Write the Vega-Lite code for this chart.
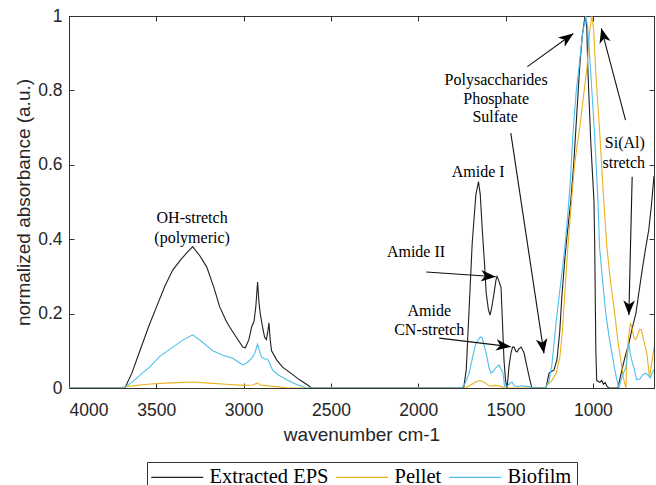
{
  "$schema": "https://vega.github.io/schema/vega-lite/v6.json",
  "width": 585,
  "height": 372,
  "autosize": "none",
  "padding": {"left": 69, "top": 16, "right": 2, "bottom": 97},
  "background": "white",
  "config": {
    "view": {"stroke": "#333333", "strokeWidth": 1},
    "axis": {
      "grid": false,
      "domainColor": "#333333",
      "tickColor": "#333333",
      "tickSize": -5,
      "labelColor": "#262626",
      "titleColor": "#262626",
      "labelFont": "Liberation Sans",
      "titleFont": "Liberation Sans",
      "labelFontSize": 17.5,
      "titleFontSize": 19,
      "titleFontWeight": "normal"
    }
  },
  "datasets": {
    "spectra": [
      {"s": "Extracted EPS", "x": 4000, "y": 0},
      {"s": "Extracted EPS", "x": 3680, "y": 0},
      {"s": "Extracted EPS", "x": 3640, "y": 0.04},
      {"s": "Extracted EPS", "x": 3594, "y": 0.10},
      {"s": "Extracted EPS", "x": 3540, "y": 0.17},
      {"s": "Extracted EPS", "x": 3497, "y": 0.22},
      {"s": "Extracted EPS", "x": 3450, "y": 0.275},
      {"s": "Extracted EPS", "x": 3406, "y": 0.317},
      {"s": "Extracted EPS", "x": 3360, "y": 0.345},
      {"s": "Extracted EPS", "x": 3326, "y": 0.363},
      {"s": "Extracted EPS", "x": 3292, "y": 0.38},
      {"s": "Extracted EPS", "x": 3250, "y": 0.355},
      {"s": "Extracted EPS", "x": 3211, "y": 0.325},
      {"s": "Extracted EPS", "x": 3170, "y": 0.27},
      {"s": "Extracted EPS", "x": 3137, "y": 0.218},
      {"s": "Extracted EPS", "x": 3100, "y": 0.18},
      {"s": "Extracted EPS", "x": 3080, "y": 0.164},
      {"s": "Extracted EPS", "x": 3040, "y": 0.135},
      {"s": "Extracted EPS", "x": 3005, "y": 0.11},
      {"s": "Extracted EPS", "x": 2990, "y": 0.108},
      {"s": "Extracted EPS", "x": 2970, "y": 0.13},
      {"s": "Extracted EPS", "x": 2954, "y": 0.164},
      {"s": "Extracted EPS", "x": 2940, "y": 0.18},
      {"s": "Extracted EPS", "x": 2930, "y": 0.22},
      {"s": "Extracted EPS", "x": 2920, "y": 0.285},
      {"s": "Extracted EPS", "x": 2912, "y": 0.23},
      {"s": "Extracted EPS", "x": 2905, "y": 0.2},
      {"s": "Extracted EPS", "x": 2890, "y": 0.16},
      {"s": "Extracted EPS", "x": 2880, "y": 0.137},
      {"s": "Extracted EPS", "x": 2870, "y": 0.13},
      {"s": "Extracted EPS", "x": 2862, "y": 0.15},
      {"s": "Extracted EPS", "x": 2855, "y": 0.175},
      {"s": "Extracted EPS", "x": 2848, "y": 0.13},
      {"s": "Extracted EPS", "x": 2840, "y": 0.10},
      {"s": "Extracted EPS", "x": 2810, "y": 0.075},
      {"s": "Extracted EPS", "x": 2777, "y": 0.056},
      {"s": "Extracted EPS", "x": 2730, "y": 0.04},
      {"s": "Extracted EPS", "x": 2680, "y": 0.022},
      {"s": "Extracted EPS", "x": 2640, "y": 0.01},
      {"s": "Extracted EPS", "x": 2611, "y": 0},
      {"s": "Extracted EPS", "x": 1740, "y": 0},
      {"s": "Extracted EPS", "x": 1725, "y": 0.05},
      {"s": "Extracted EPS", "x": 1709, "y": 0.21},
      {"s": "Extracted EPS", "x": 1691, "y": 0.39},
      {"s": "Extracted EPS", "x": 1670, "y": 0.52},
      {"s": "Extracted EPS", "x": 1655, "y": 0.555},
      {"s": "Extracted EPS", "x": 1645, "y": 0.52},
      {"s": "Extracted EPS", "x": 1634, "y": 0.43},
      {"s": "Extracted EPS", "x": 1620, "y": 0.33},
      {"s": "Extracted EPS", "x": 1611, "y": 0.255},
      {"s": "Extracted EPS", "x": 1598, "y": 0.21},
      {"s": "Extracted EPS", "x": 1589, "y": 0.196},
      {"s": "Extracted EPS", "x": 1578, "y": 0.22},
      {"s": "Extracted EPS", "x": 1566, "y": 0.255},
      {"s": "Extracted EPS", "x": 1555, "y": 0.29},
      {"s": "Extracted EPS", "x": 1549, "y": 0.30},
      {"s": "Extracted EPS", "x": 1540, "y": 0.29},
      {"s": "Extracted EPS", "x": 1526, "y": 0.27},
      {"s": "Extracted EPS", "x": 1518, "y": 0.18},
      {"s": "Extracted EPS", "x": 1509, "y": 0.075},
      {"s": "Extracted EPS", "x": 1500, "y": 0.02},
      {"s": "Extracted EPS", "x": 1491, "y": 0},
      {"s": "Extracted EPS", "x": 1480, "y": 0.06},
      {"s": "Extracted EPS", "x": 1469, "y": 0.094},
      {"s": "Extracted EPS", "x": 1460, "y": 0.11},
      {"s": "Extracted EPS", "x": 1451, "y": 0.11},
      {"s": "Extracted EPS", "x": 1443, "y": 0.1},
      {"s": "Extracted EPS", "x": 1434, "y": 0.097},
      {"s": "Extracted EPS", "x": 1424, "y": 0.105},
      {"s": "Extracted EPS", "x": 1411, "y": 0.11},
      {"s": "Extracted EPS", "x": 1400, "y": 0.1},
      {"s": "Extracted EPS", "x": 1394, "y": 0.094},
      {"s": "Extracted EPS", "x": 1377, "y": 0.056},
      {"s": "Extracted EPS", "x": 1360, "y": 0.02},
      {"s": "Extracted EPS", "x": 1349, "y": 0},
      {"s": "Extracted EPS", "x": 1269, "y": 0},
      {"s": "Extracted EPS", "x": 1260, "y": 0.02},
      {"s": "Extracted EPS", "x": 1251, "y": 0.04},
      {"s": "Extracted EPS", "x": 1235, "y": 0.045},
      {"s": "Extracted EPS", "x": 1223, "y": 0.048},
      {"s": "Extracted EPS", "x": 1206, "y": 0.075},
      {"s": "Extracted EPS", "x": 1190, "y": 0.15},
      {"s": "Extracted EPS", "x": 1177, "y": 0.25},
      {"s": "Extracted EPS", "x": 1160, "y": 0.35},
      {"s": "Extracted EPS", "x": 1150, "y": 0.40},
      {"s": "Extracted EPS", "x": 1126, "y": 0.505},
      {"s": "Extracted EPS", "x": 1110, "y": 0.6},
      {"s": "Extracted EPS", "x": 1099, "y": 0.685},
      {"s": "Extracted EPS", "x": 1076, "y": 0.86},
      {"s": "Extracted EPS", "x": 1060, "y": 0.95},
      {"s": "Extracted EPS", "x": 1045, "y": 1.0},
      {"s": "Extracted EPS", "x": 1035, "y": 0.97},
      {"s": "Extracted EPS", "x": 1029, "y": 0.86},
      {"s": "Extracted EPS", "x": 1012, "y": 0.66},
      {"s": "Extracted EPS", "x": 994, "y": 0.505},
      {"s": "Extracted EPS", "x": 990, "y": 0.40},
      {"s": "Extracted EPS", "x": 983, "y": 0.10},
      {"s": "Extracted EPS", "x": 978, "y": 0.02},
      {"s": "Extracted EPS", "x": 960, "y": 0.015},
      {"s": "Extracted EPS", "x": 949, "y": 0.02},
      {"s": "Extracted EPS", "x": 940, "y": 0.01},
      {"s": "Extracted EPS", "x": 930, "y": 0.015},
      {"s": "Extracted EPS", "x": 920, "y": 0.005},
      {"s": "Extracted EPS", "x": 909, "y": 0},
      {"s": "Extracted EPS", "x": 857, "y": 0},
      {"s": "Extracted EPS", "x": 845, "y": 0.025},
      {"s": "Extracted EPS", "x": 834, "y": 0.048},
      {"s": "Extracted EPS", "x": 815, "y": 0.085},
      {"s": "Extracted EPS", "x": 794, "y": 0.12},
      {"s": "Extracted EPS", "x": 775, "y": 0.16},
      {"s": "Extracted EPS", "x": 754, "y": 0.2},
      {"s": "Extracted EPS", "x": 737, "y": 0.255},
      {"s": "Extracted EPS", "x": 720, "y": 0.31},
      {"s": "Extracted EPS", "x": 700, "y": 0.37},
      {"s": "Extracted EPS", "x": 680, "y": 0.425},
      {"s": "Extracted EPS", "x": 665, "y": 0.49},
      {"s": "Extracted EPS", "x": 650, "y": 0.57},

      {"s": "Pellet", "x": 4000, "y": 0},
      {"s": "Pellet", "x": 3720, "y": 0},
      {"s": "Pellet", "x": 3650, "y": 0.005},
      {"s": "Pellet", "x": 3550, "y": 0.01},
      {"s": "Pellet", "x": 3450, "y": 0.013},
      {"s": "Pellet", "x": 3350, "y": 0.015},
      {"s": "Pellet", "x": 3290, "y": 0.016},
      {"s": "Pellet", "x": 3200, "y": 0.013},
      {"s": "Pellet", "x": 3100, "y": 0.01},
      {"s": "Pellet", "x": 3000, "y": 0.007},
      {"s": "Pellet", "x": 2950, "y": 0.008},
      {"s": "Pellet", "x": 2920, "y": 0.013},
      {"s": "Pellet", "x": 2905, "y": 0.008},
      {"s": "Pellet", "x": 2880, "y": 0.007},
      {"s": "Pellet", "x": 2850, "y": 0.005},
      {"s": "Pellet", "x": 2800, "y": 0.003},
      {"s": "Pellet", "x": 2750, "y": 0},
      {"s": "Pellet", "x": 1730, "y": 0},
      {"s": "Pellet", "x": 1700, "y": 0.008},
      {"s": "Pellet", "x": 1670, "y": 0.017},
      {"s": "Pellet", "x": 1645, "y": 0.02},
      {"s": "Pellet", "x": 1620, "y": 0.015},
      {"s": "Pellet", "x": 1595, "y": 0.006},
      {"s": "Pellet", "x": 1580, "y": 0.005},
      {"s": "Pellet", "x": 1560, "y": 0.007},
      {"s": "Pellet", "x": 1540, "y": 0.006},
      {"s": "Pellet", "x": 1520, "y": 0.003},
      {"s": "Pellet", "x": 1505, "y": 0},
      {"s": "Pellet", "x": 1275, "y": 0},
      {"s": "Pellet", "x": 1260, "y": 0.01},
      {"s": "Pellet", "x": 1234, "y": 0.02},
      {"s": "Pellet", "x": 1210, "y": 0.04},
      {"s": "Pellet", "x": 1190, "y": 0.08},
      {"s": "Pellet", "x": 1175, "y": 0.15},
      {"s": "Pellet", "x": 1160, "y": 0.26},
      {"s": "Pellet", "x": 1143, "y": 0.38},
      {"s": "Pellet", "x": 1122, "y": 0.505},
      {"s": "Pellet", "x": 1105, "y": 0.6},
      {"s": "Pellet", "x": 1091, "y": 0.65},
      {"s": "Pellet", "x": 1075, "y": 0.7},
      {"s": "Pellet", "x": 1055, "y": 0.78},
      {"s": "Pellet", "x": 1034, "y": 0.86},
      {"s": "Pellet", "x": 1018, "y": 0.96},
      {"s": "Pellet", "x": 1006, "y": 1.0},
      {"s": "Pellet", "x": 995, "y": 0.96},
      {"s": "Pellet", "x": 985, "y": 0.86},
      {"s": "Pellet", "x": 960, "y": 0.68},
      {"s": "Pellet", "x": 945, "y": 0.56},
      {"s": "Pellet", "x": 938, "y": 0.505},
      {"s": "Pellet", "x": 920, "y": 0.38},
      {"s": "Pellet", "x": 900, "y": 0.29},
      {"s": "Pellet", "x": 875, "y": 0.2},
      {"s": "Pellet", "x": 855, "y": 0.12},
      {"s": "Pellet", "x": 840, "y": 0.075},
      {"s": "Pellet", "x": 825, "y": 0.025},
      {"s": "Pellet", "x": 811, "y": 0},
      {"s": "Pellet", "x": 805, "y": 0.09},
      {"s": "Pellet", "x": 795, "y": 0.14},
      {"s": "Pellet", "x": 785, "y": 0.175},
      {"s": "Pellet", "x": 775, "y": 0.16},
      {"s": "Pellet", "x": 765, "y": 0.135},
      {"s": "Pellet", "x": 756, "y": 0.13},
      {"s": "Pellet", "x": 745, "y": 0.14},
      {"s": "Pellet", "x": 732, "y": 0.158},
      {"s": "Pellet", "x": 722, "y": 0.156},
      {"s": "Pellet", "x": 710, "y": 0.13},
      {"s": "Pellet", "x": 691, "y": 0.094},
      {"s": "Pellet", "x": 676, "y": 0.03},
      {"s": "Pellet", "x": 665, "y": 0.06},
      {"s": "Pellet", "x": 650, "y": 0.11},

      {"s": "Biofilm", "x": 4000, "y": 0},
      {"s": "Biofilm", "x": 3690, "y": 0},
      {"s": "Biofilm", "x": 3640, "y": 0.015},
      {"s": "Biofilm", "x": 3580, "y": 0.04},
      {"s": "Biofilm", "x": 3537, "y": 0.057},
      {"s": "Biofilm", "x": 3480, "y": 0.085},
      {"s": "Biofilm", "x": 3406, "y": 0.11},
      {"s": "Biofilm", "x": 3350, "y": 0.128},
      {"s": "Biofilm", "x": 3292, "y": 0.143},
      {"s": "Biofilm", "x": 3240, "y": 0.125},
      {"s": "Biofilm", "x": 3177, "y": 0.10},
      {"s": "Biofilm", "x": 3120, "y": 0.088},
      {"s": "Biofilm", "x": 3063, "y": 0.08},
      {"s": "Biofilm", "x": 3030, "y": 0.07},
      {"s": "Biofilm", "x": 3005, "y": 0.062},
      {"s": "Biofilm", "x": 2980, "y": 0.068},
      {"s": "Biofilm", "x": 2954, "y": 0.08},
      {"s": "Biofilm", "x": 2935, "y": 0.095},
      {"s": "Biofilm", "x": 2920, "y": 0.118},
      {"s": "Biofilm", "x": 2910, "y": 0.1},
      {"s": "Biofilm", "x": 2897, "y": 0.083},
      {"s": "Biofilm", "x": 2880, "y": 0.078},
      {"s": "Biofilm", "x": 2863, "y": 0.078},
      {"s": "Biofilm", "x": 2850, "y": 0.065},
      {"s": "Biofilm", "x": 2834, "y": 0.048},
      {"s": "Biofilm", "x": 2800, "y": 0.035},
      {"s": "Biofilm", "x": 2754, "y": 0.022},
      {"s": "Biofilm", "x": 2700, "y": 0.01},
      {"s": "Biofilm", "x": 2640, "y": 0},
      {"s": "Biofilm", "x": 1750, "y": 0},
      {"s": "Biofilm", "x": 1730, "y": 0.015},
      {"s": "Biofilm", "x": 1709, "y": 0.04},
      {"s": "Biofilm", "x": 1690, "y": 0.08},
      {"s": "Biofilm", "x": 1670, "y": 0.12},
      {"s": "Biofilm", "x": 1645, "y": 0.137},
      {"s": "Biofilm", "x": 1634, "y": 0.135},
      {"s": "Biofilm", "x": 1620, "y": 0.11},
      {"s": "Biofilm", "x": 1611, "y": 0.094},
      {"s": "Biofilm", "x": 1595, "y": 0.055},
      {"s": "Biofilm", "x": 1583, "y": 0.04},
      {"s": "Biofilm", "x": 1570, "y": 0.045},
      {"s": "Biofilm", "x": 1555, "y": 0.055},
      {"s": "Biofilm", "x": 1537, "y": 0.062},
      {"s": "Biofilm", "x": 1525, "y": 0.05},
      {"s": "Biofilm", "x": 1515, "y": 0.04},
      {"s": "Biofilm", "x": 1505, "y": 0.005},
      {"s": "Biofilm", "x": 1490, "y": 0.005},
      {"s": "Biofilm", "x": 1475, "y": 0.012},
      {"s": "Biofilm", "x": 1463, "y": 0.016},
      {"s": "Biofilm", "x": 1450, "y": 0.006},
      {"s": "Biofilm", "x": 1430, "y": 0.004},
      {"s": "Biofilm", "x": 1410, "y": 0.006},
      {"s": "Biofilm", "x": 1390, "y": 0.005},
      {"s": "Biofilm", "x": 1360, "y": 0.003},
      {"s": "Biofilm", "x": 1340, "y": 0},
      {"s": "Biofilm", "x": 1269, "y": 0},
      {"s": "Biofilm", "x": 1251, "y": 0.02},
      {"s": "Biofilm", "x": 1235, "y": 0.06},
      {"s": "Biofilm", "x": 1211, "y": 0.175},
      {"s": "Biofilm", "x": 1190, "y": 0.26},
      {"s": "Biofilm", "x": 1177, "y": 0.31},
      {"s": "Biofilm", "x": 1160, "y": 0.38},
      {"s": "Biofilm", "x": 1143, "y": 0.47},
      {"s": "Biofilm", "x": 1130, "y": 0.55},
      {"s": "Biofilm", "x": 1114, "y": 0.685},
      {"s": "Biofilm", "x": 1095, "y": 0.8},
      {"s": "Biofilm", "x": 1080, "y": 0.86},
      {"s": "Biofilm", "x": 1060, "y": 0.95},
      {"s": "Biofilm", "x": 1040, "y": 1.0},
      {"s": "Biofilm", "x": 1030, "y": 0.97},
      {"s": "Biofilm", "x": 1014, "y": 0.86},
      {"s": "Biofilm", "x": 990, "y": 0.68},
      {"s": "Biofilm", "x": 971, "y": 0.505},
      {"s": "Biofilm", "x": 962, "y": 0.38},
      {"s": "Biofilm", "x": 945, "y": 0.29},
      {"s": "Biofilm", "x": 926, "y": 0.2},
      {"s": "Biofilm", "x": 908, "y": 0.14},
      {"s": "Biofilm", "x": 891, "y": 0.094},
      {"s": "Biofilm", "x": 875, "y": 0.05},
      {"s": "Biofilm", "x": 863, "y": 0.022},
      {"s": "Biofilm", "x": 851, "y": 0},
      {"s": "Biofilm", "x": 840, "y": 0.02},
      {"s": "Biofilm", "x": 825, "y": 0.04},
      {"s": "Biofilm", "x": 811, "y": 0.056},
      {"s": "Biofilm", "x": 800, "y": 0.1},
      {"s": "Biofilm", "x": 794, "y": 0.12},
      {"s": "Biofilm", "x": 785, "y": 0.09},
      {"s": "Biofilm", "x": 775, "y": 0.07},
      {"s": "Biofilm", "x": 766, "y": 0.056},
      {"s": "Biofilm", "x": 749, "y": 0.022},
      {"s": "Biofilm", "x": 730, "y": 0.025},
      {"s": "Biofilm", "x": 715, "y": 0.035},
      {"s": "Biofilm", "x": 697, "y": 0.04},
      {"s": "Biofilm", "x": 685, "y": 0.035},
      {"s": "Biofilm", "x": 672, "y": 0.027},
      {"s": "Biofilm", "x": 660, "y": 0.04},
      {"s": "Biofilm", "x": 650, "y": 0.05}
    ],
    "notes": [
      {"label": "OH-stretch", "x": 3295, "y": 0.456},
      {"label": "(polymeric)", "x": 3295, "y": 0.402},
      {"label": "Amide I", "x": 1657, "y": 0.581},
      {"label": "Amide II", "x": 2013, "y": 0.366},
      {"label": "Amide", "x": 1937, "y": 0.208},
      {"label": "CN-stretch", "x": 1937, "y": 0.156},
      {"label": "Polysaccharides", "x": 1554, "y": 0.828},
      {"label": "Phosphate", "x": 1554, "y": 0.777},
      {"label": "Sulfate", "x": 1560, "y": 0.728},
      {"label": "Si(Al)", "x": 817, "y": 0.658},
      {"label": "stretch", "x": 823, "y": 0.604}
    ],
    "arrows": [
      {"id": "a1", "x": 1954, "y": 0.312, "x2": 1556, "y2": 0.299},
      {"id": "a2", "x": 1880, "y": 0.134, "x2": 1470, "y2": 0.111},
      {"id": "a3", "x": 1375, "y": 0.864, "x2": 1112, "y2": 0.953},
      {"id": "a4", "x": 1470, "y": 0.685, "x2": 1280, "y2": 0.093},
      {"id": "a5", "x": 813, "y": 0.72, "x2": 952, "y2": 0.967},
      {"id": "a6", "x": 775, "y": 0.568, "x2": 794, "y2": 0.196}
    ]
  },
  "resolve": {"axis": {"x": "independent", "y": "independent"}},
  "layer": [
    {
      "data": {"name": "spectra"},
      "mark": {"type": "line", "strokeWidth": 1.1, "clip": true},
      "encoding": {
        "x": {"field": "x", "type": "quantitative",
              "scale": {"domain": [650, 4000], "reverse": true, "nice": false, "zero": false},
              "axis": {"values": [1000, 1500, 2000, 2500, 3000, 3500, 4000], "format": "d",
                       "title": "wavenumber cm-1", "labelPadding": 18, "titlePadding": 7}},
        "y": {"field": "y", "type": "quantitative",
              "scale": {"domain": [0, 1], "nice": false, "zero": false},
              "axis": {"values": [0, 0.2, 0.4, 0.6, 0.8, 1], "format": "~g",
                       "title": "normalized absorbance (a.u.)", "labelPadding": 12, "titlePadding": 4}},
        "color": {"field": "s", "type": "nominal",
                  "scale": {"domain": ["Extracted EPS", "Pellet", "Biofilm"], "range": ["#1f1f1f", "#EDB120", "#4DBEEE"]},
                  "legend": {"orient": "none", "legendX": 78, "legendY": 446, "direction": "horizontal",
                             "title": null, "symbolType": "M-5,0L5,0", "symbolSize": 108, "symbolStrokeWidth": 1.2,
                             "symbolOffset": 15,
                             "labelFont": "Liberation Serif", "labelFontSize": 20.5, "labelColor": "#000000",
                             "strokeColor": "#333333", "padding": 5, "columnPadding": 4, "labelOffset": 22}}
      }
    },
    {
      "data": {"name": "spectra"},
      "mark": {"type": "line", "opacity": 0},
      "encoding": {
        "x": {"field": "x", "type": "quantitative",
              "scale": {"domain": [650, 4000], "reverse": true, "nice": false, "zero": false},
              "axis": {"orient": "top", "values": [1000, 1500, 2000, 2500, 3000, 3500, 4000], "labels": false, "title": null}},
        "y": {"field": "y", "type": "quantitative",
              "scale": {"domain": [0, 1], "nice": false, "zero": false},
              "axis": {"orient": "right", "values": [0, 0.2, 0.4, 0.6, 0.8, 1], "labels": false, "title": null}},
        "detail": {"field": "s"}
      }
    },
    {
      "data": {"name": "arrows"},
      "mark": {"type": "rule", "color": "#111111", "strokeWidth": 1.1},
      "encoding": {
        "x": {"field": "x", "type": "quantitative", "axis": null,
              "scale": {"domain": [650, 4000], "reverse": true, "nice": false, "zero": false}},
        "y": {"field": "y", "type": "quantitative", "axis": null,
              "scale": {"domain": [0, 1], "nice": false, "zero": false}},
        "x2": {"field": "x2"},
        "y2": {"field": "y2"}
      }
    },
    {"data": {"name": "arrows"}, "transform": [{"filter": "datum.id === 'a1'"}],
     "mark": {"type": "point", "shape": "M0,0 L0.7,1.8 L0,1.3 L-0.7,1.8 Z", "filled": true, "color": "#000000", "opacity": 1, "size": 270, "angle": 94},
     "encoding": {"x": {"field": "x2", "type": "quantitative", "axis": null, "scale": {"domain": [650, 4000], "reverse": true, "nice": false, "zero": false}},
                  "y": {"field": "y2", "type": "quantitative", "axis": null, "scale": {"domain": [0, 1], "nice": false, "zero": false}}}},
    {"data": {"name": "arrows"}, "transform": [{"filter": "datum.id === 'a2'"}],
     "mark": {"type": "point", "shape": "M0,0 L0.7,1.8 L0,1.3 L-0.7,1.8 Z", "filled": true, "color": "#000000", "opacity": 1, "size": 270, "angle": 97},
     "encoding": {"x": {"field": "x2", "type": "quantitative", "axis": null, "scale": {"domain": [650, 4000], "reverse": true, "nice": false, "zero": false}},
                  "y": {"field": "y2", "type": "quantitative", "axis": null, "scale": {"domain": [0, 1], "nice": false, "zero": false}}}},
    {"data": {"name": "arrows"}, "transform": [{"filter": "datum.id === 'a3'"}],
     "mark": {"type": "point", "shape": "M0,0 L0.7,1.8 L0,1.3 L-0.7,1.8 Z", "filled": true, "color": "#000000", "opacity": 1, "size": 270, "angle": 54},
     "encoding": {"x": {"field": "x2", "type": "quantitative", "axis": null, "scale": {"domain": [650, 4000], "reverse": true, "nice": false, "zero": false}},
                  "y": {"field": "y2", "type": "quantitative", "axis": null, "scale": {"domain": [0, 1], "nice": false, "zero": false}}}},
    {"data": {"name": "arrows"}, "transform": [{"filter": "datum.id === 'a4'"}],
     "mark": {"type": "point", "shape": "M0,0 L0.7,1.8 L0,1.3 L-0.7,1.8 Z", "filled": true, "color": "#000000", "opacity": 1, "size": 270, "angle": 171},
     "encoding": {"x": {"field": "x2", "type": "quantitative", "axis": null, "scale": {"domain": [650, 4000], "reverse": true, "nice": false, "zero": false}},
                  "y": {"field": "y2", "type": "quantitative", "axis": null, "scale": {"domain": [0, 1], "nice": false, "zero": false}}}},
    {"data": {"name": "arrows"}, "transform": [{"filter": "datum.id === 'a5'"}],
     "mark": {"type": "point", "shape": "M0,0 L0.7,1.8 L0,1.3 L-0.7,1.8 Z", "filled": true, "color": "#000000", "opacity": 1, "size": 270, "angle": 345},
     "encoding": {"x": {"field": "x2", "type": "quantitative", "axis": null, "scale": {"domain": [650, 4000], "reverse": true, "nice": false, "zero": false}},
                  "y": {"field": "y2", "type": "quantitative", "axis": null, "scale": {"domain": [0, 1], "nice": false, "zero": false}}}},
    {"data": {"name": "arrows"}, "transform": [{"filter": "datum.id === 'a6'"}],
     "mark": {"type": "point", "shape": "M0,0 L0.7,1.8 L0,1.3 L-0.7,1.8 Z", "filled": true, "color": "#000000", "opacity": 1, "size": 270, "angle": 181},
     "encoding": {"x": {"field": "x2", "type": "quantitative", "axis": null, "scale": {"domain": [650, 4000], "reverse": true, "nice": false, "zero": false}},
                  "y": {"field": "y2", "type": "quantitative", "axis": null, "scale": {"domain": [0, 1], "nice": false, "zero": false}}}},
    {
      "data": {"name": "notes"},
      "mark": {"type": "text", "font": "Liberation Serif", "fontSize": 16, "color": "#000000", "align": "center", "baseline": "middle"},
      "encoding": {
        "x": {"field": "x", "type": "quantitative", "axis": null,
              "scale": {"domain": [650, 4000], "reverse": true, "nice": false, "zero": false}},
        "y": {"field": "y", "type": "quantitative", "axis": null,
              "scale": {"domain": [0, 1], "nice": false, "zero": false}},
        "text": {"field": "label"}
      }
    }
  ]
}
